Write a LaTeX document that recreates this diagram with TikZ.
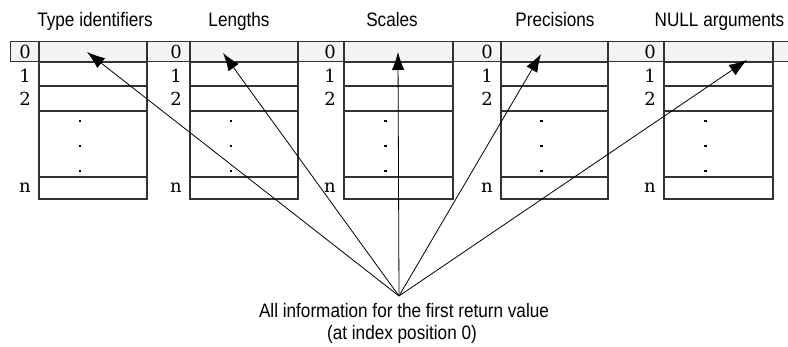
\documentclass[tikz,border=0pt]{standalone}
\usepackage{fontspec}
\setmainfont{DejaVu Serif}
\newfontfamily\hsans{Liberation Sans}
\usetikzlibrary{arrows.meta}
\definecolor{stripfill}{HTML}{F4F4F2}
\definecolor{edge}{HTML}{333333}
\newcommand{\narrow}[1]{\scalebox{0.88}[1]{#1}}
\begin{document}
\begin{tikzpicture}[x=1pt,y=-1pt,
  title/.style={font=\hsans\fontsize{19.5}{22}\selectfont, anchor=base, inner sep=0pt},
  idx/.style={font=\fontsize{18}{20}\selectfont, anchor=base, inner sep=0pt},
  boxline/.style={draw=edge, line width=1.1pt},
  ptr/.style={line width=0.8pt, -{Latex[length=18pt,width=12.5pt]}}]
\useasboundingbox (0,0) rectangle (788,347);
% highlighted index-0 strip
\fill[stripfill] (10,41.5) rectangle (800,62);
\draw[edge, line width=1pt] (800,41.5) -- (10,41.5) -- (10,62) -- (800,62);
% arrays
\foreach \i/\l/\r/\tx/\name in {1/39/147/95/Type identifiers, 2/190/298/239/Lengths, 3/344/453/392/Scales, 4/501/608/555/Precisions, 5/664/773/719.5/NULL arguments}{
  \node[title] (title\i) at (\tx,27) {\narrow{\name}};
  \draw[boxline] (\l,41.5) rectangle (\r,199);
  \foreach \y in {62,86,111,177} \draw[boxline] (\l,\y) -- (\r,\y);
  \node[idx] (i\i a) at (\l-14,59) {0};
  \node[idx] (i\i b) at (\l-14,83) {1};
  \node[idx] (i\i c) at (\l-14,105.5) {2};
  \node[idx] (i\i n) at (\l-14,193) {n};
  \foreach \y in {121,146,171} \fill ({(\l+\r)/2-13-1.2},\y-1.2) rectangle ++(2.6,2.6);
}
% pointers
\coordinate (src) at (399,296);
\coordinate (t1) at (87,52);
\coordinate (t2) at (223,53);
\coordinate (t3) at (398,52);
\coordinate (t4) at (541,54);
\coordinate (t5) at (747,60);
\foreach \k in {1,...,5} \draw[ptr] (src) -- (t\k);
% caption
\node[title] (info1) at (404,318) {\narrow{All information for the first return value}};
\node[title] (info2) at (402,339.5) {\narrow{(at index position 0)}};
\end{tikzpicture}
\end{document}
